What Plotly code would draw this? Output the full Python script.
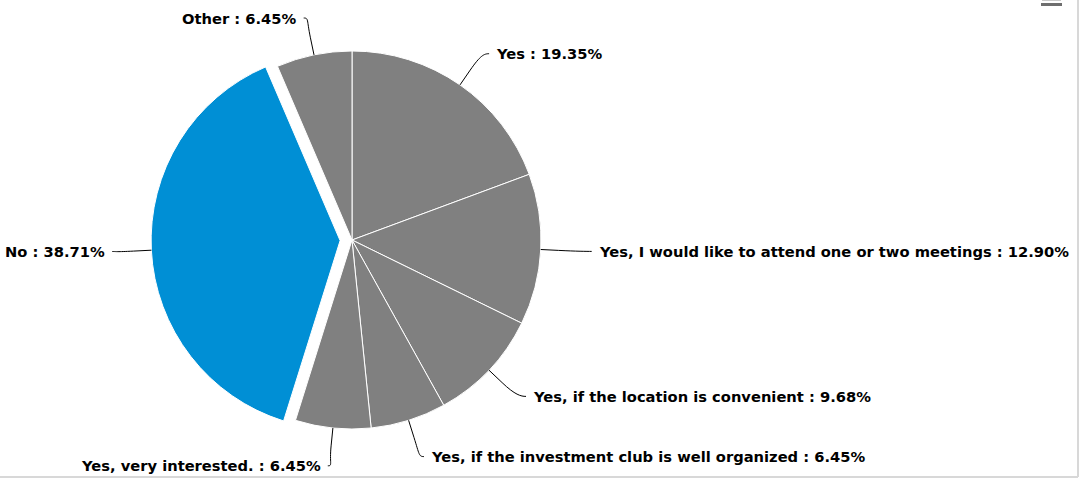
import math
import plotly.graph_objects as go

# Survey answers and their share of responses (%)
labels = [
    "Yes",
    "Yes, I would like to attend one or two meetings",
    "Yes, if the location is convenient",
    "Yes, if the investment club is well organized",
    "Yes, very interested.",
    "No",
    "Other",
]
shares = [19.35, 12.90, 9.68, 6.45, 6.45, 38.71, 6.45]
colors = ["#808080", "#808080", "#808080", "#808080", "#808080", "#008fd5", "#808080"]
pulls = [0, 0, 0, 0, 0, 0.063, 0]

# Canvas and pie geometry (pixels, y measured downward)
W, H = 1081, 479
CX, CY = 352, 240
R = 189
LABEL_RY = 227      # vertical reach of the label ring
LABEL_RX = 240      # horizontal reach of the label ring
BREAK_GAP = 18      # connector elbow distance beyond the rim
TEXT_PAD = 5

box = 2 * R * (1 + max(pulls))
dom_x = [(CX - box / 2) / W, (CX + box / 2) / W]
dom_y = [1 - (CY + box / 2) / H, 1 - (CY - box / 2) / H]

fig = go.Figure()

fig.add_trace(go.Pie(
    labels=labels,
    values=shares,
    sort=False,
    direction="clockwise",
    rotation=0,
    pull=pulls,
    marker=dict(colors=colors, line=dict(color="#ffffff", width=1)),
    textinfo="none",
    hoverinfo="label+percent",
    showlegend=False,
    domain=dict(x=dom_x, y=dom_y),
))

# Outside labels with curved connectors, placed from each slice's mid angle
shapes = []
annotations = []
total = sum(shares)
acc = 0.0
for name, val, pull in zip(labels, shares, pulls):
    theta = 2 * math.pi * (acc + val / 2) / total
    acc += val
    ux, uy = math.sin(theta), -math.cos(theta)
    side = 1 if ux >= 0 else -1
    ox, oy = CX + pull * R * ux, CY + pull * R * uy

    tx, ty = ox + R * ux, oy + R * uy
    bx, by = ox + (R + BREAK_GAP) * ux, oy + (R + BREAK_GAP) * uy
    ly = min(max(CY + LABEL_RY * uy, 18), 467)
    lx = CX + side * LABEL_RX * abs(ux)

    c1x, c1y = lx - side * 5, ly
    c2x, c2y = 2 * bx - tx, 2 * by - ty
    path = (f"M {lx:.1f},{ly:.1f} C {c1x:.1f},{c1y:.1f} {c2x:.1f},{c2y:.1f} "
            f"{bx:.1f},{by:.1f} L {tx:.1f},{ty:.1f}")
    shapes.append(dict(type="path", xref="x", yref="y", path=path,
                       line=dict(color="#000000", width=1), layer="above"))

    annotations.append(dict(
        x=lx + side * TEXT_PAD, y=ly, xref="x", yref="y",
        text=f"{name} : {val:.2f}%",
        showarrow=False,
        xanchor="left" if side > 0 else "right",
        yanchor="middle",
        font=dict(family="DejaVu Sans", size=14.7, color="#000000", weight="bold"),
    ))

# Container border (right and bottom edges)
shapes.append(dict(type="line", xref="x", yref="y", x0=1078, x1=1078, y0=0, y1=477,
                   line=dict(color="#d8d8d8", width=2)))
shapes.append(dict(type="line", xref="x", yref="y", x0=0, x1=1078, y0=477, y1=477,
                   line=dict(color="#d8d8d8", width=2)))

# Export menu icon peeking in at the top right
shapes.append(dict(type="rect", xref="x", yref="y", x0=1042, x1=1061, y0=-1, y1=0.8,
                   line=dict(width=0), fillcolor="#bdbdbd"))
shapes.append(dict(type="rect", xref="x", yref="y", x0=1041, x1=1062, y0=3, y1=6,
                   line=dict(width=0), fillcolor="#6e6e6e"))

fig.update_layout(
    width=W,
    height=H,
    margin=dict(l=0, r=0, t=0, b=0),
    paper_bgcolor="#ffffff",
    plot_bgcolor="rgba(0,0,0,0)",
    xaxis=dict(range=[0, W], visible=False, fixedrange=True, domain=[0, 1]),
    yaxis=dict(range=[H, 0], visible=False, fixedrange=True, domain=[0, 1]),
    shapes=shapes,
    annotations=annotations,
    showlegend=False,
)

fig.write_html("out.html")
